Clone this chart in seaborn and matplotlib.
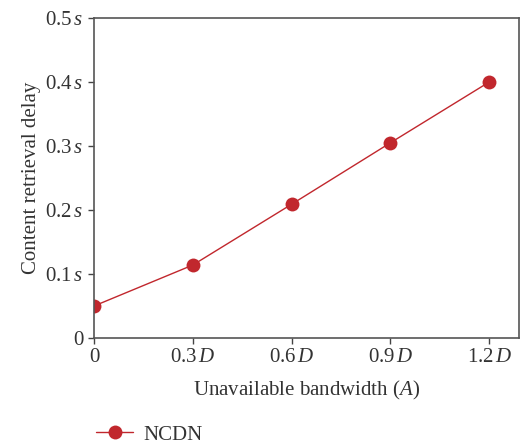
import matplotlib
matplotlib.use("Agg")
import matplotlib.pyplot as plt
import seaborn as sns
import pandas as pd

x_values = [0, 0.3, 0.6, 0.9, 1.2]
delay = [0.050, 0.114, 0.209, 0.305, 0.400]
x_tick_labels = ["0", "0.3$\\,\\mathit{D}$", "0.6$\\,\\mathit{D}$", "0.9$\\,\\mathit{D}$", "1.2$\\,\\mathit{D}$"]
y_ticks = [0, 0.1, 0.2, 0.3, 0.4, 0.5]
y_tick_labels = ["0", "0.1$\\,\\mathit{s}$", "0.2$\\,\\mathit{s}$", "0.3$\\,\\mathit{s}$", "0.4$\\,\\mathit{s}$", "0.5$\\,\\mathit{s}$"]
series_name = "NCDN"

sns.set_theme(style="white")
plt.rcParams['font.family'] = ['Liberation Serif', 'DejaVu Serif']
plt.rcParams['mathtext.fontset'] = 'custom'
plt.rcParams['mathtext.rm'] = 'Liberation Serif'
plt.rcParams['mathtext.it'] = 'Liberation Serif:italic'

df = pd.DataFrame({"x": x_values, "delay": delay, "series": series_name})

fig = plt.figure(figsize=(5.25, 4.45), dpi=100)
ax = fig.add_axes([0.179, 0.2404, 0.810, 0.7192])
color = "#c1272d"
sns.lineplot(data=df, x="x", y="delay", hue="series", palette=[color], marker="o",
             markersize=10, markeredgewidth=0, linewidth=1.0, ax=ax)

fs = 15
ax.set_xlim(0, 1.291)
ax.set_ylim(0, 0.5)
ax.set_xticks(x_values)
ax.set_xticklabels(x_tick_labels)
ax.set_yticks(y_ticks)
ax.set_yticklabels(y_tick_labels)
ax.tick_params(axis="both", direction="out", length=4, width=1, colors="#444444",
               labelsize=fs, labelcolor="#333333", bottom=True, left=True)
for s in ax.spines.values():
    s.set_color("#555555")
    s.set_linewidth(1.2)
ax.set_xlabel("Unavailable bandwidth ($\\mathit{A}$)", fontsize=fs, color="#333333", labelpad=8)
ax.set_ylabel("Content retrieval delay", fontsize=fs, color="#333333", labelpad=3)

leg = ax.legend(loc="center left", bbox_to_anchor=(-0.03, -0.303), frameon=False,
                fontsize=fs, handlelength=1.8, handletextpad=0.5, borderpad=0.2)
for t in leg.get_texts():
    t.set_color("#333333")

fig.savefig("out.png", dpi=100)
